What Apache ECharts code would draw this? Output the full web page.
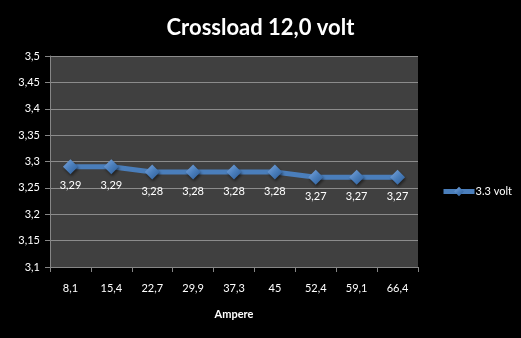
<!DOCTYPE html>
<html>
<head>
<meta charset="utf-8">
<script src="https://cdn.jsdelivr.net/npm/echarts@6/dist/echarts.min.js"></script>
<style>
html,body{margin:0;padding:0;background:#000;}
#chart{width:521px;height:338px;}
</style>
</head>
<body>
<div id="chart"></div>
<script>
// Crossload test: 3.3 V rail while the 12 V rail is loaded
const categories = ['8,1', '15,4', '22,7', '29,9', '37,3', '45', '52,4', '59,1', '66,4'];
const volt33 = [3.29, 3.29, 3.28, 3.28, 3.28, 3.28, 3.27, 3.27, 3.27];
const seriesName = '3.3 volt';
const yMin = 3.1, yMax = 3.5, yStep = 0.05;

const fmt = v => String(Math.round(v * 100) / 100).replace('.', ',');
const font = 'Lato, "Open Sans", sans-serif';

const chart = echarts.init(document.getElementById('chart'));
chart.setOption({
  backgroundColor: '#000',
  animation: false,
  title: {
    text: 'Crossload 12,0 volt',
    left: 'center', top: 12,
    textStyle: { color: '#fff', fontSize: 22, fontWeight: 'bold', fontFamily: font }
  },
  legend: {
    data: [seriesName],
    left: 436, top: 181,
    itemWidth: 31, itemHeight: 12, itemGap: 2,
    lineStyle: { width: 5 },
    textStyle: { color: '#fff', fontSize: 11, fontFamily: font, padding: [0, 0, 0, -4] }
  },
  grid: { left: 50, right: 103, top: 56, bottom: 71, show: true, backgroundColor: '#404040', borderWidth: 0 },
  xAxis: {
    type: 'category',
    data: categories,
    boundaryGap: true,
    name: 'Ampere', nameLocation: 'middle', nameGap: 42,
    nameTextStyle: { color: '#fff', fontSize: 11, fontWeight: 'bold', fontFamily: font },
    axisLine: { lineStyle: { color: '#868686', width: 1 } },
    axisTick: { show: true, length: 5, inside: false, lineStyle: { color: '#868686' } },
    axisLabel: { color: '#fff', fontSize: 11, fontFamily: font, margin: 16 },
    splitLine: { show: false }
  },
  yAxis: {
    type: 'value',
    min: yMin, max: yMax, interval: yStep,
    axisLine: { show: true, lineStyle: { color: '#868686', width: 1 } },
    axisTick: { show: true, length: 5, lineStyle: { color: '#868686' } },
    axisLabel: { color: '#fff', fontSize: 11, fontFamily: font, margin: 10, formatter: fmt },
    splitLine: { show: true, lineStyle: { color: '#8c8c8c', width: 1 } }
  },
  series: [{
    name: seriesName,
    type: 'line',
    data: volt33,
    symbol: 'diamond',
    symbolSize: [15, 15],
    lineStyle: { color: '#4a7ebb', width: 5 },
    itemStyle: {
      color: new echarts.graphic.LinearGradient(0, 0, 1, 1, [
        { offset: 0, color: '#7fa9e0' },
        { offset: 0.5, color: '#4a7ebb' },
        { offset: 1, color: '#2c5a94' }
      ]),
      borderWidth: 0,
      shadowColor: 'rgba(0,0,0,0.5)', shadowBlur: 3, shadowOffsetX: 1, shadowOffsetY: 2
    },
    label: {
      show: true, position: 'bottom', distance: 6,
      color: '#fff', fontSize: 11, fontFamily: font,
      formatter: p => fmt(p.value)
    }
  }]
});
</script>
</body>
</html>
